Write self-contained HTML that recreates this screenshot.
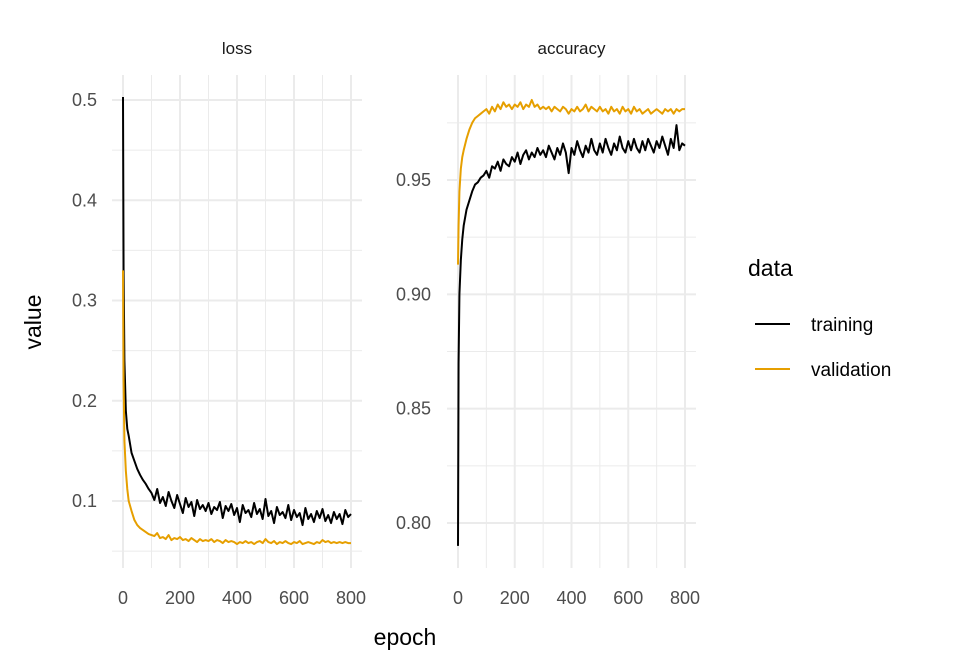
<!DOCTYPE html>
<html><head><meta charset="utf-8"><style>
body{margin:0;background:#fff}
svg{display:block;font-family:"Liberation Sans",sans-serif}
</style></head><body>
<svg id="chart" width="960" height="672" viewBox="0 0 960 672"></svg>
<script>
const epochs=[0,2,5,10,15,20,30,40,50,60,70,80,90,100,110,120,130,140,150,160,170,180,190,200,210,220,230,240,250,260,270,280,290,300,310,320,330,340,350,360,370,380,390,400,410,420,430,440,450,460,470,480,490,500,510,520,530,540,550,560,570,580,590,600,610,620,630,640,650,660,670,680,690,700,710,720,730,740,750,760,770,780,790,800];
const lossTraining=[0.503,0.330,0.240,0.190,0.172,0.165,0.148,0.140,0.132,0.126,0.121,0.117,0.112,
0.108,0.101,0.112,0.098,0.104,0.095,0.109,0.100,0.093,0.106,
0.097,0.088,0.103,0.094,0.099,0.085,0.101,0.092,0.096,0.090,
0.098,0.087,0.094,0.091,0.099,0.083,0.095,0.090,0.097,0.086,
0.093,0.079,0.096,0.088,0.091,0.084,0.098,0.087,0.092,0.082,
0.102,0.085,0.090,0.078,0.094,0.086,0.089,0.083,0.096,0.081,
0.091,0.084,0.088,0.076,0.093,0.082,0.087,0.079,0.090,0.083,
0.092,0.080,0.086,0.078,0.089,0.082,0.087,0.077,0.091,0.084,0.087];
const lossValidation=[0.330,0.220,0.160,0.130,0.112,0.100,0.090,0.081,0.076,0.073,0.071,0.069,0.067,
0.066,0.065,0.068,0.063,0.064,0.062,0.066,0.061,0.063,0.062,
0.064,0.061,0.062,0.060,0.063,0.061,0.059,0.062,0.060,0.061,
0.060,0.062,0.059,0.061,0.060,0.058,0.061,0.059,0.060,0.059,
0.057,0.059,0.058,0.060,0.058,0.059,0.057,0.059,0.060,0.058,
0.062,0.059,0.058,0.060,0.057,0.059,0.058,0.060,0.058,0.057,
0.059,0.058,0.060,0.057,0.058,0.059,0.058,0.057,0.059,0.058,
0.061,0.059,0.060,0.058,0.059,0.058,0.059,0.058,0.059,0.058,0.058];
const accTraining=[0.790,0.870,0.900,0.915,0.924,0.930,0.937,0.941,0.945,0.948,0.949,0.951,0.952,
0.954,0.951,0.956,0.955,0.958,0.954,0.959,0.957,0.956,0.960,
0.958,0.962,0.957,0.961,0.963,0.959,0.962,0.960,0.964,0.961,
0.963,0.960,0.965,0.962,0.959,0.964,0.961,0.966,0.962,0.953,
0.964,0.961,0.967,0.963,0.960,0.965,0.962,0.968,0.963,0.961,
0.966,0.962,0.968,0.964,0.961,0.966,0.963,0.969,0.964,0.962,
0.967,0.963,0.968,0.964,0.962,0.967,0.963,0.968,0.965,0.962,
0.967,0.964,0.969,0.965,0.961,0.968,0.964,0.974,0.963,0.966,0.965];
const accValidation=[0.913,0.930,0.945,0.955,0.960,0.963,0.968,0.972,0.975,0.977,0.978,0.979,0.980,
0.981,0.979,0.982,0.980,0.983,0.981,0.984,0.982,0.983,0.981,
0.983,0.982,0.984,0.981,0.983,0.982,0.985,0.982,0.983,0.981,
0.982,0.981,0.982,0.980,0.982,0.981,0.980,0.982,0.981,0.979,
0.981,0.980,0.982,0.980,0.981,0.983,0.980,0.982,0.981,0.980,
0.982,0.980,0.981,0.979,0.982,0.980,0.981,0.979,0.982,0.980,
0.981,0.979,0.982,0.980,0.981,0.979,0.980,0.981,0.979,0.980,
0.981,0.980,0.979,0.981,0.980,0.981,0.979,0.981,0.980,0.981,0.981];
const xTicks=[0,200,400,600,800];
const xMinor=[100,300,500,700];
const lossTicks=[0.1,0.2,0.3,0.4,0.5];
const lossMinor=[0.05,0.15,0.25,0.35,0.45];
const accTicks=[0.80,0.85,0.90,0.95];
const accMinor=[0.825,0.875,0.925,0.975];

const NS="http://www.w3.org/2000/svg";
const svg=document.getElementById('chart');
function mk(tag,attrs,parent){const e=document.createElementNS(NS,tag);for(const k in attrs)e.setAttribute(k,attrs[k]);(parent||svg).appendChild(e);return e;}

const panels=[
 {name:'loss',left:112,right:362,x0:123,x1:351,yA:0.5,pA:100,yB:0.1,pB:501,ticks:lossTicks,minor:lossMinor,fmt:v=>v.toFixed(1),labelX:97,title:'loss',tr:lossTraining,va:lossValidation},
 {name:'accuracy',left:447,right:696,x0:458,x1:685,yA:0.95,pA:180,yB:0.80,pB:523,ticks:accTicks,minor:accMinor,fmt:v=>v.toFixed(2),labelX:431,title:'accuracy',tr:accTraining,va:accValidation}
];
const panelTop=75,panelBottom=568;
panels.forEach(p=>{
 const sx=v=>p.x0+(v-0)/(800-0)*(p.x1-p.x0);
 const sy=v=>p.pB+(v-p.yB)/(p.yA-p.yB)*(p.pA-p.pB);
 const g=mk('g',{});
 
 
 p.minor.forEach(v=>{const y=sy(v);if(y>panelTop&&y<panelBottom){const l=mk('line',{x1:p.left,x2:p.right,y1:y,y2:y,stroke:'#ebebeb','stroke-width':1},g);}});
 xMinor.forEach(v=>{const l=mk('line',{x1:sx(v),x2:sx(v),y1:panelTop,y2:panelBottom,stroke:'#ebebeb','stroke-width':1},g);});
 p.ticks.forEach(v=>{const y=sy(v);const l=mk('line',{x1:p.left,x2:p.right,y1:y,y2:y,stroke:'#ebebeb','stroke-width':2},g);
  const t=mk('text',{x:p.labelX,y:y+6,'text-anchor':'end','font-size':18,fill:'#4d4d4d'},g);t.textContent=p.fmt(v);});
 xTicks.forEach(v=>{const x=sx(v);const l=mk('line',{x1:x,x2:x,y1:panelTop,y2:panelBottom,stroke:'#ebebeb','stroke-width':2},g);
  const t=mk('text',{x:x,y:604,'text-anchor':'middle','font-size':18,fill:'#4d4d4d'},g);t.textContent=String(v);});
 const st=mk('text',{x:(p.left+p.right)/2,y:54,'text-anchor':'middle','font-size':17,fill:'#1a1a1a'},g);st.textContent=p.title;
 
 
 [[p.tr,'#000000','training-line'],[p.va,'#E69F00','validation-line']].forEach(function(item){
  const vals=item[0],col=item[1],nm=item[2];
  const d=vals.map((v,i)=>(i?'L':'M')+sx(epochs[i]).toFixed(2)+','+sy(v).toFixed(2)).join('');
  const path=mk('path',{d:d,fill:'none',stroke:col,'stroke-width':2,'stroke-linejoin':'round'},g);
  
  
 });
});
const yt=mk('text',{x:0,y:0,transform:'translate(41,322) rotate(-90)','text-anchor':'middle','font-size':23,fill:'#000'});yt.textContent='value';


const xt=mk('text',{x:405,y:645,'text-anchor':'middle','font-size':23,fill:'#000'});xt.textContent='epoch';


const lg=mk('g',{});


const ltitle=mk('text',{x:748,y:276,'font-size':23,fill:'#000'},lg);ltitle.textContent='data';


[['training','#000000',324],['validation','#E69F00',369]].forEach(function(item){
 const lab=item[0],col=item[1],y=item[2];
 const e=mk('g',{},lg);
 
 
 mk('line',{x1:755,x2:790,y1:y,y2:y,stroke:col,'stroke-width':2},e);
 const t=mk('text',{x:811,y:y+7,'font-size':19,fill:'#000'},e);t.textContent=lab;
});
</script>
</body></html>
